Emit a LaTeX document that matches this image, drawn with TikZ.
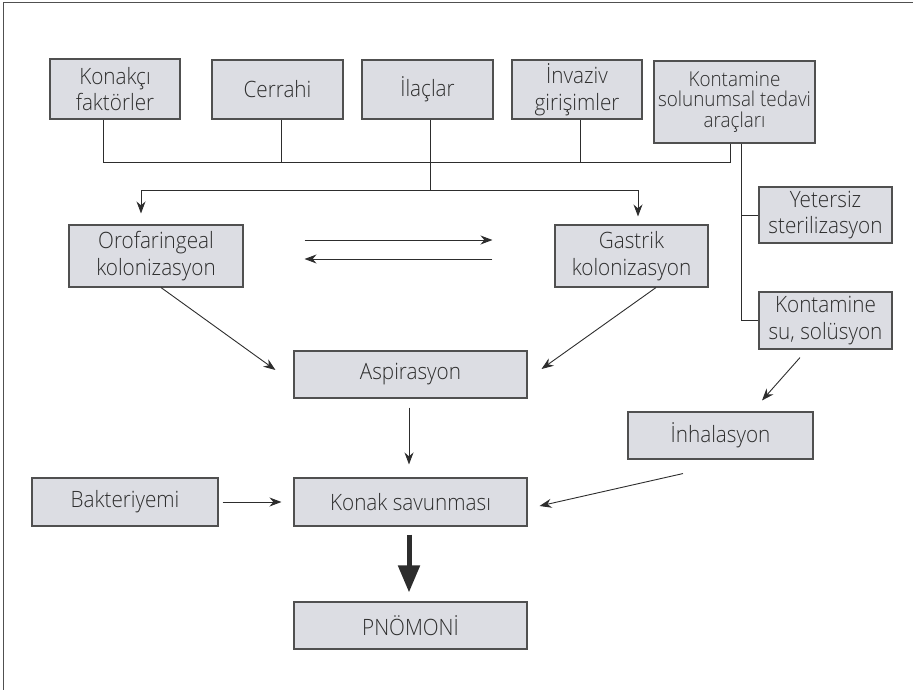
\documentclass[tikz,border=0pt]{standalone}
\usepackage{fontspec}
\setmainfont{Open Sans}[UprightFont=* Light, FakeStretch=0.92]
\usetikzlibrary{arrows.meta}
\definecolor{boxfill}{RGB}{220,221,227}
\definecolor{boxedge}{RGB}{80,80,80}
\definecolor{ink}{RGB}{45,45,45}
\begin{document}
\begin{tikzpicture}[x=1pt,y=-1pt,
  factor/.style={draw=boxedge, line width=1.1pt, fill=boxfill, text=ink,
    inner sep=0pt, align=center, font=\fontsize{22.5}{26.5}\selectfont},
  tight/.style={font=\fontsize{20.5}{20.5}\selectfont},
  link/.style={draw=ink, line width=0.9pt},
  arr/.style={link, -{Stealth[length=12pt,width=9pt]}},
  bigarr/.style={draw=ink, line width=5pt, -{Triangle[length=27pt,width=21pt]}}]
\useasboundingbox (0,0) rectangle (913,690);

% frame (top and left edges only)
\draw[boxedge, line width=1.6pt] (3.5,690) -- (3.5,2.5) -- (913,2.5);

% top row of risk factors
\node[factor, minimum width=130pt, minimum height=60pt] (konakci) at (115,89) {Konakçı\\faktörler};
\node[factor, minimum width=131pt, minimum height=59pt] (cerrahi) at (277.5,89.5) {Cerrahi};
\node[factor, minimum width=131pt, minimum height=59pt] (ilaclar) at (427.5,89.5) {İlaçlar};
\node[factor, minimum width=130pt, minimum height=59pt] (invaziv) at (577,89.5) {İnvaziv\\girişimler};
\node[factor, tight, minimum width=161pt, minimum height=82pt] (kontam) at (734.5,102) {Kontamine\\solunumsal tedavi\\araçları};

% right column
\node[factor, minimum width=133pt, minimum height=56pt] (yetersiz) at (825.5,215) {Yetersiz\\sterilizasyon};
\node[factor, minimum width=133pt, minimum height=57pt] (kontsu) at (825.5,320.5) {Kontamine\\su, solüsyon};
\node[factor, minimum width=185pt, minimum height=47pt] (inhal) at (720.5,435.5) {İnhalasyon};

% colonization
\node[factor, minimum width=174pt, minimum height=62pt] (orofar) at (156,256) {Orofaringeal\\kolonizasyon};
\node[factor, minimum width=153pt, minimum height=62pt] (gastrik) at (631.5,256) {Gastrik\\kolonizasyon};

% central chain
\node[factor, minimum width=233pt, minimum height=47pt] (aspir) at (410.5,374.5) {Aspirasyon};
\node[factor, minimum width=233pt, minimum height=48pt] (konak) at (410.5,502) {Konak savunması};
\node[factor, minimum width=186pt, minimum height=48pt] (bakter) at (125,502) {Bakteriyemi};
\node[factor, minimum width=233pt, minimum height=47pt] (pnomoni) at (410.5,625.5) {PNÖMONİ};

% collecting bus under the top row
\coordinate (bus) at (0,162);
\coordinate (k1) at ([xshift=-12pt]konakci.south);
\coordinate (k2) at ([xshift=3.5pt]cerrahi.south);
\coordinate (k3) at ([xshift=2.5pt]ilaclar.south);
\coordinate (k4) at ([xshift=3pt]invaziv.south);
\coordinate (k5) at ([xshift=-4.5pt]kontam.south);
\draw[link] (k1) -- (k1 |- bus) -- (k5 |- bus) -- (k5);
\draw[link] (k2) -- (k2 |- bus);
\draw[link] (k4) -- (k4 |- bus);

% distribution bus to the colonization boxes
\coordinate (bus2) at (0,190);
\coordinate (oA) at ([xshift=-15pt]orofar.north);
\coordinate (gA) at ([xshift=6.5pt]gastrik.north);
\draw[link] (k3) -- (k3 |- bus2);
\draw[link, {Stealth[length=12pt,width=9pt]}-{Stealth[length=12pt,width=9pt]},
  shorten <=11pt, shorten >=8pt] (oA) -- (oA |- bus2) -- (gA |- bus2) -- (gA);

% exchange between oropharynx and stomach
\draw[arr] ([xshift=61pt,yshift=16pt]orofar.east) -- ([xshift=-62pt,yshift=16pt]gastrik.west);
\draw[arr] ([xshift=-62pt,yshift=-3pt]gastrik.west) -- ([xshift=61pt,yshift=-3pt]orofar.east);

% branches from contaminated equipment
\coordinate (kB) at ([xshift=6.5pt]kontam.south);
\draw[link] (kB) |- (yetersiz.west);
\draw[link] (kB) |- (kontsu.west);

% arrows to aspiration and inhalation
\draw[arr] ([xshift=5pt]orofar.south) -- ([xshift=-18pt,yshift=4.5pt]aspir.west);
\draw[arr] ([xshift=24.5pt]gastrik.south) -- ([xshift=14pt,yshift=5.5pt]aspir.east);
\draw[arr] ([xshift=-25.5pt,yshift=-8pt]kontsu.south) -- ([xshift=41.5pt,yshift=11pt]inhal.north);

% arrows into host defence
\draw[arr, shorten <=9pt, shorten >=13pt] ([xshift=-1.5pt]aspir.south) -- ([xshift=-1.5pt]konak.north);
\draw[arr] ([xshift=-37.5pt,yshift=-14pt]inhal.south) -- ([xshift=12pt,yshift=-4pt]konak.east);
\draw[arr, shorten <=4pt, shorten >=12pt] (bakter.east) -- (konak.west);

% outcome
\draw[bigarr, shorten <=8pt, shorten >=9pt] ([xshift=-1.5pt]konak.south) -- ([xshift=-1.5pt]pnomoni.north);
\end{tikzpicture}
\end{document}
